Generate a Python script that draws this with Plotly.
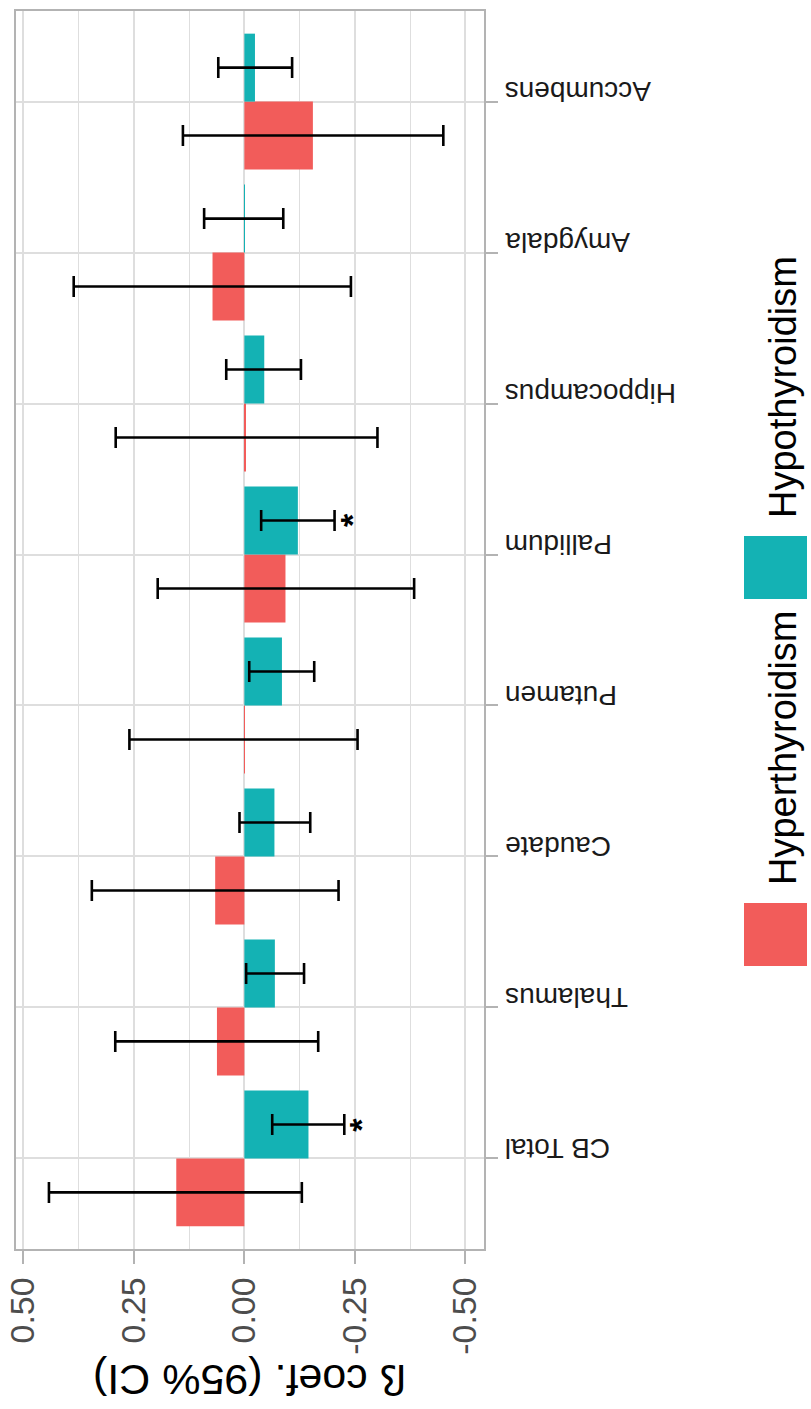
import plotly.graph_objects as go

# ---- data ----
regions = ["CB Total", "Thalamus", "Caudate", "Putamen", "Pallidum",
           "Hippocampus", "Amygdala", "Accumbens"]
groups = ["Hyperthyroidism", "Hypothyroidism"]

hyper_beta = [0.154, 0.062, 0.066, -0.001, -0.093, -0.003, 0.072, -0.155]
hyper_lo = [-0.130, -0.167, -0.213, -0.256, -0.384, -0.301, -0.241, -0.450]
hyper_hi = [0.442, 0.292, 0.345, 0.260, 0.196, 0.291, 0.386, 0.139]

hypo_beta = [-0.145, -0.069, -0.068, -0.085, -0.121, -0.045, -0.001, -0.024]
hypo_lo = [-0.226, -0.135, -0.149, -0.158, -0.204, -0.128, -0.088, -0.108]
hypo_hi = [-0.063, -0.004, 0.011, -0.011, -0.038, 0.041, 0.091, 0.059]
hypo_sig = ["*", "", "", "", "*", "", "", ""]

x_ticks = [0.5, 0.25, 0.0, -0.25, -0.5]
x_ticklabels = ["0.50", "0.25", "0.00", "-0.25", "-0.50"]

# ---- style ----
RED = "#F25C5A"
TEAL = "#14B2B4"
FONT = "Liberation Sans, Arial, sans-serif"
W, H = 811, 1409
ML, MR, MT, MB = 16, 327, 11, 160
PW, PH = W - ML - MR, H - MT - MB
Y_RANGE = [-0.6, 7.6]
BARGAP = 0.1


def px_to_paper_x(px):
    return (px - ML) / PW


def px_to_paper_y(py):
    return (MT + PH - py) / PH


def err(beta, lo, hi):
    return dict(type="data", symmetric=False,
                array=[h - b for b, h in zip(beta, hi)],
                arrayminus=[b - l for b, l in zip(beta, lo)],
                color="black", thickness=2.6, width=10.5)


fig = go.Figure()
fig.add_trace(go.Bar(y=regions, x=hyper_beta, orientation="h", name=groups[0],
                     marker=dict(color=RED, line=dict(width=0)),
                     error_x=err(hyper_beta, hyper_lo, hyper_hi)))
fig.add_trace(go.Bar(y=regions, x=hypo_beta, orientation="h", name=groups[1],
                     marker=dict(color=TEAL, line=dict(width=0)),
                     error_x=err(hypo_beta, hypo_lo, hypo_hi)))

# significance markers next to the Hypothyroidism CIs
px_per_cat = PH / (Y_RANGE[1] - Y_RANGE[0])
bar_off = (1 - BARGAP) / 4 * px_per_cat
for r, lo, s in zip(regions, hypo_lo, hypo_sig):
    if s:
        fig.add_annotation(x=lo, y=r, xref="x", yref="y", text="<b>*</b>",
                           showarrow=False, xshift=17, yshift=bar_off,
                           textangle=-90,
                           font=dict(family=FONT, size=34, color="black"))

# category labels (upside down, to the right of the panel)
for r in regions:
    fig.add_annotation(x=px_to_paper_x(503), y=r, xref="paper", yref="y",
                       text=r, showarrow=False, textangle=180,
                       xanchor="left", yanchor="middle", yshift=10,
                       font=dict(family=FONT, size=28, color="#1a1a1a"))

# axis title (upside down)
fig.add_annotation(x=0.5, y=px_to_paper_y(1380), xref="paper", yref="paper",
                   text="ß coef. (95% CI)", showarrow=False, textangle=180,
                   xanchor="center", yanchor="middle",
                   font=dict(family=FONT, size=43, color="black"))

# legend drawn manually (rotated)
legend_items = [(groups[0], RED, 903, 966, 748), (groups[1], TEAL, 536, 599, 387)]
for name, col, ky0, ky1, ty in legend_items:
    fig.add_shape(type="rect", xref="paper", yref="paper",
                  x0=px_to_paper_x(744), x1=px_to_paper_x(807),
                  y0=px_to_paper_y(ky1), y1=px_to_paper_y(ky0),
                  fillcolor=col, line=dict(width=0))
    fig.add_annotation(x=px_to_paper_x(783), y=px_to_paper_y(ty),
                       xref="paper", yref="paper", text=name, showarrow=False,
                       textangle=-90, xanchor="center", yanchor="middle",
                       font=dict(family=FONT, size=38, color="black"))

GRID = "#dedede"
BORDER = "#b3b3b3"
fig.update_layout(
    width=W, height=H,
    margin=dict(l=ML, r=MR, t=MT, b=MB, pad=0),
    barmode="group", bargap=BARGAP, bargroupgap=0,
    showlegend=False,
    plot_bgcolor="white", paper_bgcolor="white",
    font=dict(family=FONT),
    xaxis=dict(range=[0.5165, -0.542], tickmode="array", tickvals=x_ticks,
               ticktext=x_ticklabels, tickangle=-90, automargin=False,
               tickfont=dict(family=FONT, size=34, color="#4d4d4d"),
               ticks="outside", ticklen=13, tickwidth=1.5, tickcolor=BORDER,
               showgrid=True, gridcolor=GRID, gridwidth=1.5,
               minor=dict(dtick=0.25, tick0=0.125, showgrid=True,
                          gridcolor=GRID, gridwidth=1.2),
               zeroline=False, showline=True, linecolor=BORDER, linewidth=1.5,
               mirror=True),
    yaxis=dict(categoryorder="array", categoryarray=regions, range=Y_RANGE,
               side="right", showticklabels=False, automargin=False,
               ticks="outside", ticklen=12, tickwidth=1.5, tickcolor=BORDER,
               showgrid=True, gridcolor=GRID, gridwidth=1.5,
               zeroline=False, showline=True, linecolor=BORDER, linewidth=1.5,
               mirror=True),
)

fig.write_html(
    "out.html",
    config={"displayModeBar": False},
    post_script="document.body.style.margin='0';"
                "document.body.style.padding='0';"
                "document.documentElement.style.overflow='hidden';",
)
